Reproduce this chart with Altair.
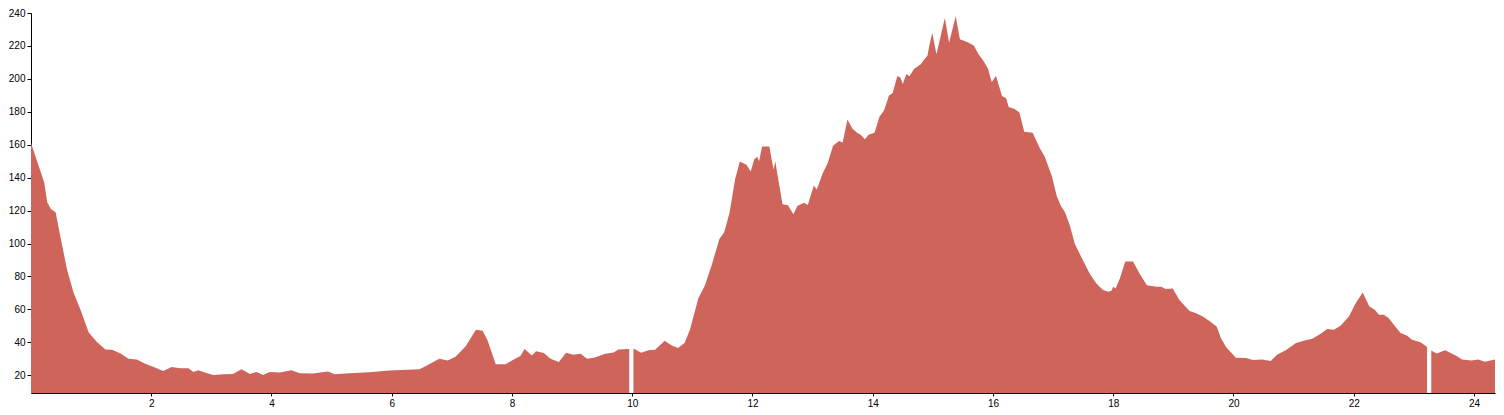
import altair as alt
import pandas as pd

hours = [
    0.00, 0.22, 0.27, 0.33, 0.41, 0.49, 0.60, 0.71, 0.82, 0.96, 1.10, 1.24, 1.35, 1.49,
    1.62, 1.76, 1.90, 2.04, 2.20, 2.34, 2.48, 2.62, 2.70, 2.78, 2.89, 3.03, 3.20, 3.36,
    3.50, 3.64, 3.75, 3.86, 3.97, 4.14, 4.33, 4.47, 4.69, 4.94, 5.05, 5.30, 5.63, 5.96,
    6.18, 6.46, 6.57, 6.79, 6.93, 7.06, 7.23, 7.40, 7.51, 7.59, 7.73, 7.89, 8.03, 8.14,
    8.21, 8.33, 8.40, 8.53, 8.64, 8.78, 8.90, 9.02, 9.14, 9.25, 9.38, 9.55, 9.69, 9.77,
    9.95, 10.02, 10.15, 10.27, 10.38, 10.54, 10.65, 10.76, 10.87, 10.96, 11.10, 11.21,
    11.32, 11.45, 11.53, 11.62, 11.71, 11.79, 11.90, 11.97, 12.03, 12.08, 12.11, 12.16,
    12.28, 12.35, 12.38, 12.42, 12.50, 12.59, 12.68, 12.75, 12.86, 12.92, 13.02, 13.07,
    13.17, 13.25, 13.34, 13.44, 13.50, 13.58, 13.66, 13.74, 13.80, 13.87, 13.93, 14.03,
    14.11, 14.19, 14.27, 14.33, 14.41, 14.46, 14.50, 14.56, 14.61, 14.69, 14.80, 14.85,
    14.91, 14.94, 14.99, 15.06, 15.20, 15.27, 15.38, 15.45, 15.57, 15.68, 15.76, 15.84,
    15.92, 15.98, 16.05, 16.15, 16.22, 16.26, 16.36, 16.44, 16.52, 16.66, 16.78, 16.86,
    16.98, 17.06, 17.13, 17.20, 17.28, 17.36, 17.47, 17.61, 17.72, 17.83, 17.92, 17.97,
    18.00, 18.04, 18.11, 18.20, 18.33, 18.44, 18.56, 18.72, 18.80, 18.87, 18.99, 19.10,
    19.27, 19.38, 19.49, 19.60, 19.72, 19.79, 19.88, 20.04, 20.21, 20.32, 20.48, 20.62,
    20.73, 20.87, 21.04, 21.20, 21.31, 21.45, 21.56, 21.67, 21.78, 21.92, 22.03, 22.15,
    22.26, 22.35, 22.42, 22.50, 22.58, 22.69, 22.78, 22.89, 22.97, 23.11, 23.22, 23.29,
    23.38, 23.52, 23.63, 23.71, 23.80, 23.96, 24.07, 24.18, 24.35,
]
level = [
    161, 137, 125, 121, 119, 104, 84, 70, 60, 46, 40, 35.6, 35.4, 33.2,
    30, 29.6, 27, 25, 22.6, 25, 24.2, 24.2, 22, 23, 21.6, 20.2, 20.6, 20.8,
    23.6, 20.8, 22, 20.2, 22, 21.6, 23, 21.2, 21, 22.2, 20.6, 21.2, 21.8, 22.8,
    23.2, 23.6, 25.6, 30, 29, 31.2, 37.6, 47.6, 47, 41.6, 26.6, 26.6, 29.6, 31.6,
    36, 32, 34.6, 33.5, 30, 28, 33.6, 32.5, 33, 30, 30.8, 33, 33.8, 35.6,
    36, 36.2, 33.6, 35.2, 35.4, 41, 38.2, 36.6, 39.6, 47.6, 66.7, 74.7,
    86.7, 102.8, 106.8, 118.8, 138.8, 149.8, 147.9, 143.8, 151.2, 152.7, 150, 158.9,
    158.9, 144.8, 149.8, 140.8, 123.8, 123.2, 117.8, 123, 124.8, 123.4, 135.2, 132.8,
    142.8, 148.8, 159.3, 162.3, 161.4, 175.3, 169.9, 167.3, 166, 163.3, 166, 167.3,
    176.9, 181, 189.9, 191.3, 201.7, 200.9, 196.9, 202.9, 201.6, 206.2, 208.9, 211.5,
    214, 220, 228, 214.9, 237, 222, 238, 224, 222.4, 220.3, 214.9, 211,
    206, 197.9, 201.9, 189.6, 188.2, 182.9, 181.7, 179.6, 167.9, 167.3, 157.8, 152.8,
    140.8, 128.8, 122.8, 118.8, 110.8, 99.8, 91.7, 81.7, 75.7, 71.7, 70.7, 71.3,
    73.7, 72.7, 78.7, 89, 89, 81.7, 74.7, 73.7, 73.7, 72.3, 72.7, 65.7,
    59, 57.7, 55.6, 53, 49.6, 42.6, 37, 30.6, 30.4, 29.2, 29.6, 28.6,
    32.6, 35.2, 39.6, 41.2, 42.2, 45.2, 48, 47.6, 50, 55.6, 63.6, 70.3,
    61.7, 59.7, 56.7, 56.7, 54.7, 49.6, 45.6, 44, 41.6, 40, 37.2, 35,
    33.2, 35.2, 33.2, 31.6, 29.6, 29, 29.6, 28.2, 29.6,
]
# positions where the series has a break (no data)
gaps = [9.98, 23.25]

x_ticks = [2, 4, 6, 8, 10, 12, 14, 16, 18, 20, 22, 24]
y_ticks = [20, 40, 60, 80, 100, 120, 140, 160, 180, 200, 220, 240]

df = pd.DataFrame({"hour": hours, "level": level})
df["seg"] = [sum(h > g for g in gaps) for h in hours]

chart = (
    alt.Chart(df)
    .mark_area(color="#CE645A", opacity=1)
    .encode(
        x=alt.X(
            "hour:Q",
            scale=alt.Scale(domain=[0, 24.35], nice=False, zero=False),
            axis=alt.Axis(values=x_ticks, title=None, grid=False, tickSize=3,
                          labelPadding=2, format="d"),
        ),
        y=alt.Y(
            "level:Q",
            stack=None,
            scale=alt.Scale(domain=[9.2, 240], nice=False, zero=False),
            axis=alt.Axis(values=y_ticks, title=None, grid=False, tickSize=4,
                          labelPadding=2, format="d"),
        ),
        detail="seg:N",
    )
    .properties(
        width=1464,
        height=380,
        autosize=alt.AutoSizeParams(type="none"),
        padding={"left": 23, "top": 5, "right": 1, "bottom": 18},
    )
    .configure_view(stroke=None)
    .configure_axis(
        domainColor="#000",
        tickColor="#000",
        labelColor="#000",
        labelFont="Liberation Sans",
        labelFontSize=10,
        domainWidth=1,
        tickWidth=1,
    )
)

chart.save("out.html", embed_options={"renderer": "svg", "actions": False})
